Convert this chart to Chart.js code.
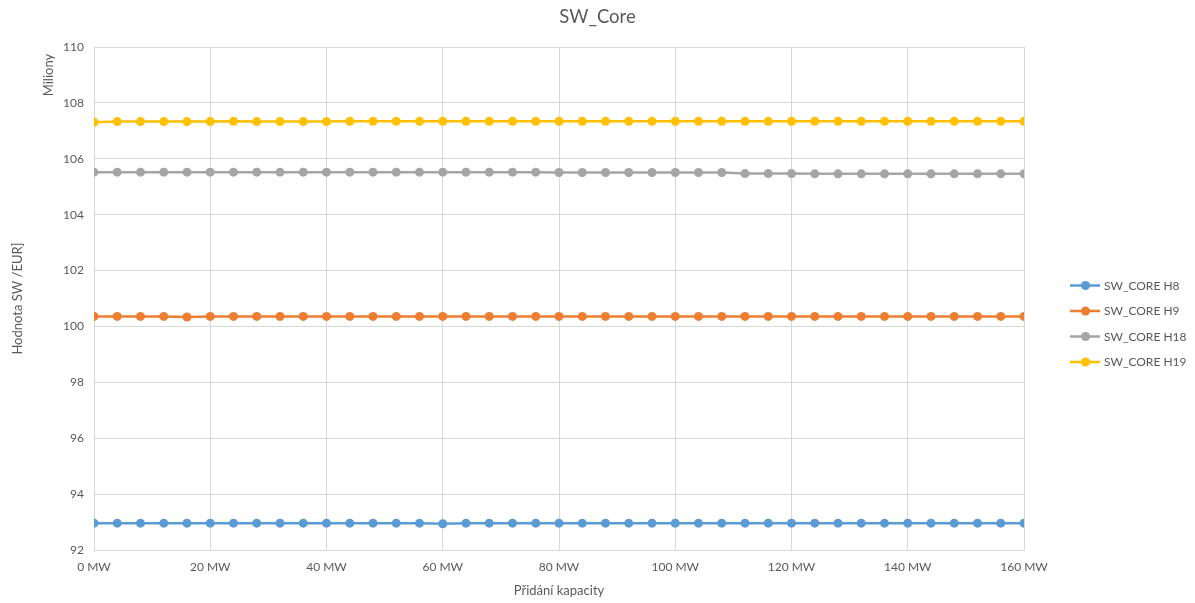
<!DOCTYPE html>
<html>
<head>
<meta charset="utf-8">
<script src="https://cdn.jsdelivr.net/npm/chart.js@4"></script>
<style>
  html, body { margin: 0; padding: 0; background: #ffffff; }
  #wrap { width: 1195px; height: 603px; }
</style>
</head>
<body>
<div id="wrap"><canvas id="c" width="1195" height="603"></canvas></div>
<script>
// Added capacity in MW (x values)
const capacityMW = [0, 4, 8, 12, 16, 20, 24, 28, 32, 36, 40, 44, 48, 52, 56, 60, 64, 68, 72, 76, 80,
  84, 88, 92, 96, 100, 104, 108, 112, 116, 120, 124, 128, 132, 136, 140, 144, 148, 152, 156, 160];

// SW values in millions of EUR
const swCoreH8 = [92.96, 92.96, 92.96, 92.96, 92.96, 92.96, 92.96, 92.96, 92.96, 92.96, 92.96, 92.96, 92.96, 92.96, 92.96, 92.94,
  92.96, 92.96, 92.96, 92.96, 92.96, 92.96, 92.96, 92.96, 92.96, 92.96, 92.96, 92.96, 92.96, 92.96, 92.96, 92.96, 92.96, 92.96,
  92.96, 92.96, 92.96, 92.96, 92.96, 92.96, 92.96];
const swCoreH9 = [100.36, 100.36, 100.36, 100.36, 100.34, 100.36, 100.36, 100.36, 100.36, 100.36, 100.36, 100.36, 100.36, 100.36,
  100.36, 100.36, 100.36, 100.36, 100.36, 100.36, 100.36, 100.36, 100.36, 100.36, 100.36, 100.36, 100.36, 100.36, 100.36, 100.36,
  100.36, 100.36, 100.36, 100.36, 100.36, 100.36, 100.36, 100.36, 100.36, 100.36, 100.36];
const swCoreH18 = [105.52, 105.52, 105.52, 105.52, 105.52, 105.52, 105.52, 105.52, 105.52, 105.52, 105.52, 105.52, 105.52, 105.52,
  105.52, 105.52, 105.52, 105.52, 105.52, 105.52, 105.51, 105.51, 105.51, 105.51, 105.51, 105.51, 105.51, 105.51, 105.47, 105.47,
  105.47, 105.46, 105.46, 105.46, 105.46, 105.46, 105.46, 105.46, 105.46, 105.46, 105.46];
const swCoreH19 = [107.31, 107.33, 107.33, 107.33, 107.33, 107.33, 107.34, 107.33, 107.33, 107.33, 107.33, 107.34, 107.34, 107.34,
  107.34, 107.34, 107.34, 107.34, 107.34, 107.34, 107.34, 107.34, 107.34, 107.34, 107.34, 107.34, 107.34, 107.34, 107.34, 107.34,
  107.34, 107.34, 107.34, 107.34, 107.34, 107.34, 107.34, 107.34, 107.34, 107.34, 107.34];

const seriesNames = ['SW_CORE H8', 'SW_CORE H9', 'SW_CORE H18', 'SW_CORE H19'];
const seriesValues = [swCoreH8, swCoreH9, swCoreH18, swCoreH19];
const seriesColors = ['#5B9BD5', '#ED7D31', '#A5A5A5', '#FFC000'];

const textColor = '#595959';
const gridColor = '#D9D9D9';
const fontFamily = 'Lato, "Liberation Sans", sans-serif';
const markerRadius = 4.5;

const datasets = seriesValues.map((vals, i) => ({
  label: seriesNames[i],
  data: vals.map((v, k) => ({ x: capacityMW[k], y: v })),
  borderColor: seriesColors[i],
  backgroundColor: seriesColors[i],
  borderWidth: 2.5,
  pointRadius: markerRadius,
  pointHoverRadius: markerRadius,
  pointBorderWidth: 0,
  tension: 0
}));

// Legend on the right: line with a dot, then the series name
const sideLegend = {
  id: 'sideLegend',
  afterDraw(chart) {
    const ctx = chart.ctx;
    const rowY = [285.5, 311, 336.5, 362];
    ctx.save();
    chart.data.datasets.forEach((ds, i) => {
      const y = rowY[i];
      ctx.strokeStyle = ds.borderColor;
      ctx.lineWidth = 2.5;
      ctx.beginPath();
      ctx.moveTo(1070, y);
      ctx.lineTo(1100, y);
      ctx.stroke();
      ctx.fillStyle = ds.backgroundColor;
      ctx.beginPath();
      ctx.arc(1085.5, y, markerRadius, 0, Math.PI * 2);
      ctx.fill();
      ctx.fillStyle = textColor;
      ctx.font = '12px ' + fontFamily;
      ctx.textAlign = 'left';
      ctx.textBaseline = 'middle';
      ctx.fillText(ds.label, 1104, y + 0.5);
    });
    // unit label at the top of the value axis
    ctx.translate(49, 75);
    ctx.rotate(-Math.PI / 2);
    ctx.fillStyle = textColor;
    ctx.font = '13px ' + fontFamily;
    ctx.textAlign = 'center';
    ctx.textBaseline = 'middle';
    ctx.fillText('Miliony', 0, 0);
    ctx.restore();
  }
};

new Chart(document.getElementById('c'), {
  type: 'line',
  data: { datasets },
  plugins: [sideLegend],
  options: {
    responsive: false,
    animation: false,
    layout: { padding: 0 },
    plugins: {
      legend: { display: false },
      tooltip: { enabled: false },
      title: {
        display: true,
        text: 'SW_Core',
        color: textColor,
        font: { family: fontFamily, size: 18.5, weight: 'normal', lineHeight: 1.2 },
        padding: { top: 6, bottom: 18.8 }
      }
    },
    scales: {
      x: {
        type: 'linear',
        min: 0,
        max: 160,
        ticks: {
          stepSize: 20,
          color: textColor,
          font: { family: fontFamily, size: 12 },
          padding: 10,
          maxRotation: 0,
          callback: v => v + ' MW'
        },
        grid: { color: gridColor, lineWidth: 1, drawTicks: false },
        border: { color: gridColor, width: 1 },
        title: {
          display: true,
          text: 'Přidání kapacity',
          color: textColor,
          font: { family: fontFamily, size: 13 },
          padding: { top: 4, bottom: 4 }
        },
        afterFit(scale) { scale.height = 53; }
      },
      y: {
        min: 92,
        max: 110,
        ticks: {
          stepSize: 2,
          color: textColor,
          font: { family: fontFamily, size: 12 },
          padding: 10
        },
        grid: { color: gridColor, lineWidth: 1, drawTicks: false },
        border: { color: gridColor, width: 1 },
        title: {
          display: true,
          text: 'Hodnota SW /EUR]',
          color: textColor,
          font: { family: fontFamily, size: 13 },
          padding: { top: 10, bottom: 0 }
        },
        afterFit(scale) { scale.width = 94; }
      },
      // empty right-hand band that holds the legend
      legendBand: {
        type: 'linear',
        position: 'right',
        min: 92,
        max: 110,
        ticks: { display: false },
        grid: { display: false, drawTicks: false },
        border: { display: false },
        afterFit(scale) { scale.width = 171; }
      }
    }
  }
});
</script>
</body>
</html>
